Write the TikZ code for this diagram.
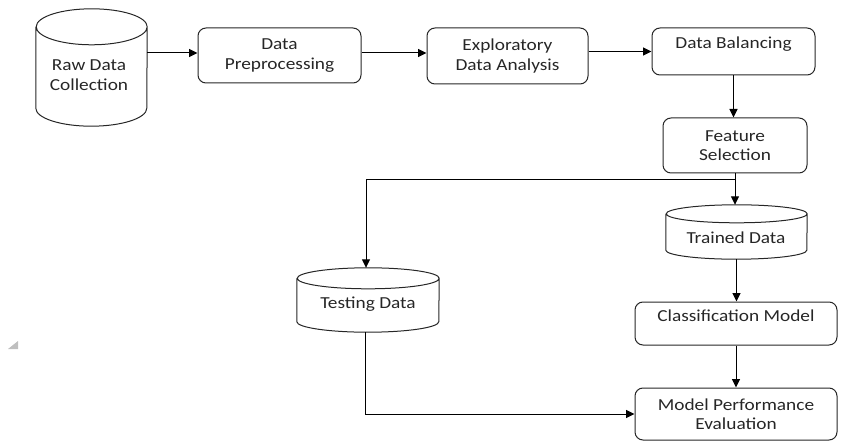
\documentclass[tikz,border=0pt]{standalone}
\usepackage{fontspec}
\setmainfont{Carlito}[FakeStretch=1.15]
\usetikzlibrary{arrows.meta,calc}
\newcommand\cylout[3]{\draw[outl] ([yshift=-#3]#1.north west) -- ([yshift=#3]#1.south west) arc[start angle=180,end angle=360,x radius=#2,y radius=#3] -- ([yshift=-#3]#1.north east) arc[start angle=0,end angle=360,x radius=#2,y radius=#3];}
\tikzset{
  txt/.style={font=\fontsize{16.8}{19.5}\selectfont, text=black!85, align=center, inner sep=0pt},
  outl/.style={draw=black!85, line width=1pt},
  proc/.style={txt, outl, rounded corners=8pt},
  topt/.style={text height=12pt, text depth=17pt},
  cylnode/.style={inner sep=0pt},
  conn/.style={draw=black, line width=1pt},
  arr/.style={conn, -{Triangle[length=8.5pt,width=8pt]}}
}
\begin{document}
\begin{tikzpicture}[x=1pt,y=-1pt]
\useasboundingbox (0,0) rectangle (841,441);
% process boxes
\node[proc, minimum width=163pt, minimum height=55pt] (pre) at (279.5,55.5) {Data\\Preprocessing};
\node[proc, minimum width=161pt, minimum height=56pt] (eda) at (507.5,56) {Exploratory\\Data Analysis};
\node[proc, topt, minimum width=163pt, minimum height=47pt] (bal) at (733.5,51.5) {Data Balancing};
\node[proc, minimum width=144pt, minimum height=55pt] (fs) at (735,145.5) {Feature\\Selection};
\node[proc, topt, minimum width=202pt, minimum height=43pt] (cls) at (736,323.5) {Classification Model};
\node[proc, minimum width=202pt, minimum height=52pt] (mpe) at (736,414) {Model Performance\\Evaluation};
% cylinders
\node[cylnode, minimum width=111pt, minimum height=117pt] (raw) at (91.5,67.5) {};
\cylout{raw}{55.5pt}{18pt}
\node[txt] (rawt) at (89,75) {Raw Data\\Collection};
\node[cylnode, minimum width=141pt, minimum height=54pt] (trained) at (736.5,232) {};
\cylout{trained}{70.5pt}{9pt}
\node[txt] (trainedt) at (736,238) {Trained Data};
\node[cylnode, minimum width=142pt, minimum height=64pt] (testing) at (368,300) {};
\cylout{testing}{71pt}{10.5pt}
\node[txt] (testingt) at (368,304) {Testing Data};
% connectors
\draw[arr] ([yshift=2.5pt]pre.west -| raw.east) -- ([yshift=2.5pt]pre.west);
\draw[arr] ([yshift=2.5pt]pre.east) -- ([yshift=2.5pt]pre.east -| eda.west);
\draw[arr] (eda.east |- bal.west) -- (bal.west);
\draw[arr] (bal.south) -- (bal.south |- fs.north);
\draw[arr] (fs.south) -- (fs.south |- trained.north);
\coordinate (split) at ($(fs.south)+(0,6)$);
\draw[arr] (split) -| ([xshift=-2pt]testing.north);
\draw[arr] (trained.south) -- (trained.south |- cls.north);
\draw[arr] (cls.south) -- (cls.south |- mpe.north);
\draw[arr] ([xshift=-3pt]testing.south) |- (mpe.west);
% resize handle mark
\fill[black!25] (8,349) -- (18,341) -- (18,349) -- cycle;
\end{tikzpicture}
\end{document}
